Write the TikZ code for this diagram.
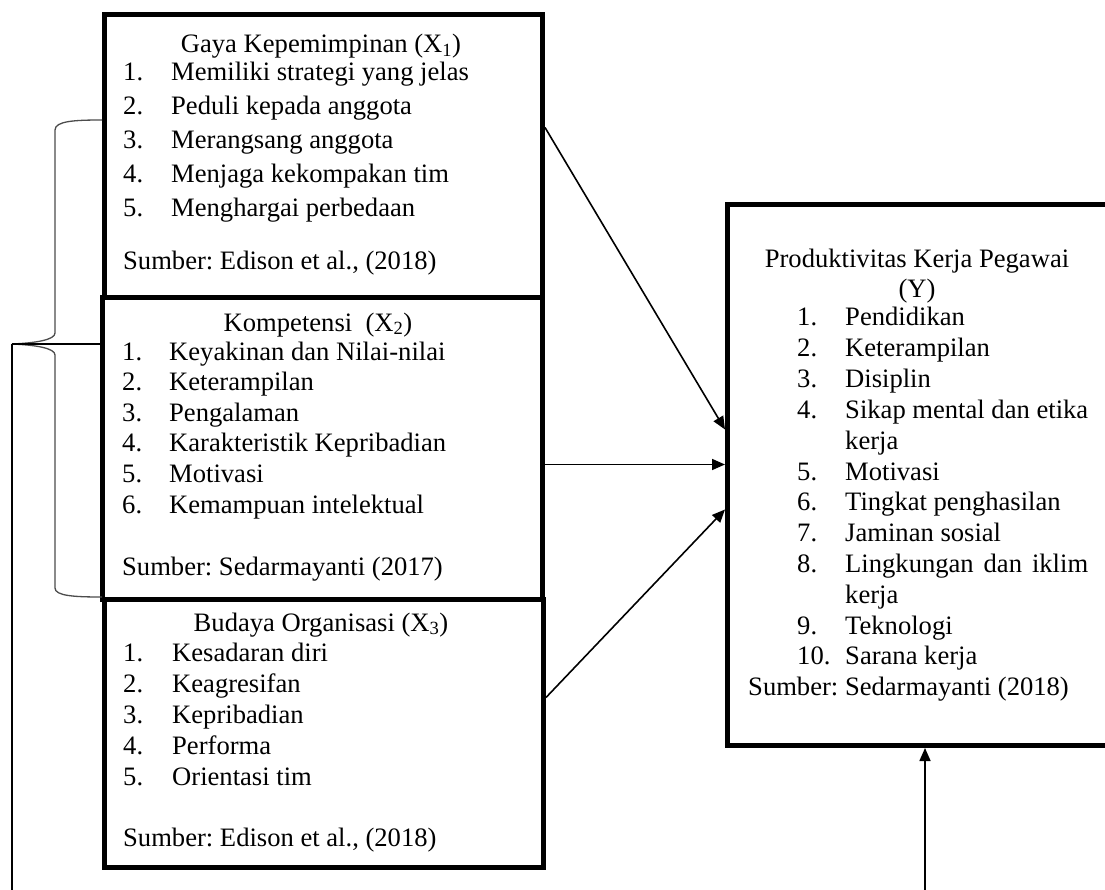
\documentclass[tikz,border=0pt]{standalone}
\usepackage{fontspec}
\setmainfont{Liberation Serif}
\frenchspacing
\usetikzlibrary{arrows.meta,calc}

\tikzset{
  varbox/.style={draw, line width=5pt, anchor=north west, inner sep=0pt},
  txt/.style={anchor=base west, inner sep=0pt, font=\fontsize{26.6}{32}\selectfont},
  ttl/.style={anchor=base, inner sep=0pt, font=\fontsize{26.6}{32}\selectfont},
  link/.style={line width=1.6pt, -{Triangle[length=13pt,width=11pt]}},
}

\begin{document}
\begin{tikzpicture}[x=1pt,y=1pt,yscale=-1]
    \useasboundingbox (0,0) rectangle (1105,890);
    \clip (0,0) rectangle (1105,890);

    %Shape: Rectangle [X1]
    \node [varbox, minimum width=438pt, minimum height=283pt] (x1) at (102,12) {};
    %Shape: Rectangle [X2]
    \node [varbox, minimum width=440pt, minimum height=302pt] (x2) at (100,295) {};
    %Shape: Rectangle [X3]
    \node [varbox, minimum width=439pt, minimum height=268pt] (x3) at (102,597) {};
    %Shape: Rectangle [Y]
    \node [varbox, minimum width=395pt, minimum height=541pt] (y) at (725,202) {};

    % Text Node [X1]
    \node [ttl] (x1t) at (321,53) {Gaya Kepemimpinan (X\textsubscript{1})};
    \foreach \item [count=\i] in {Memiliki strategi yang jelas, Peduli kepada anggota,
        Merangsang anggota, Menjaga kekompakan tim, Menghargai perbedaan} {
      \node [txt] (x1n\i) at (123,{81+33.8*(\i-1)}) {\i.};
      \node [txt] (x1i\i) at (171,{81+33.8*(\i-1)}) {\item};
    }
    \node [txt] (x1s) at (123,270) {Sumber: Edison et al., (2018)};

    % Text Node [X2]
    \node [ttl] (x2t) at (318,331) {Kompetensi\ \ (X\textsubscript{2})};
    \foreach \item [count=\i] in {Keyakinan dan Nilai-nilai, Keterampilan, Pengalaman,
        Karakteristik Kepribadian, Motivasi, Kemampuan intelektual} {
      \node [txt] (x2n\i) at (122,{360+30.6*(\i-1)}) {\i.};
      \node [txt] (x2i\i) at (169,{360+30.6*(\i-1)}) {\item};
    }
    \node [txt] (x2s) at (122,575) {Sumber: Sedarmayanti (2017)};

    % Text Node [X3]
    \node [ttl] (x3t) at (321,631) {Budaya Organisasi (X\textsubscript{3})};
    \foreach \item [count=\i] in {Kesadaran diri, Keagresifan, Kepribadian,
        Performa, Orientasi tim} {
      \node [txt] (x3n\i) at (123,{661+31.2*(\i-1)}) {\i.};
      \node [txt] (x3i\i) at (172,{661+31.2*(\i-1)}) {\item};
    }
    \node [txt] (x3s) at (123,846) {Sumber: Edison et al., (2018)};

    % Text Node [Y]
    \node [ttl] (yt) at (917,268) {Produktivitas Kerja Pegawai};
    \node [ttl] (yt2) at (917,298) {(Y)};
    \foreach \n/\item/\k in {1./Pendidikan/0, 2./Keterampilan/1, 3./Disiplin/2,
        4./\makebox[243pt][s]{Sikap mental dan etika}/3, /kerja/4, 5./Motivasi/5,
        6./Tingkat penghasilan/6, 7./Jaminan sosial/7,
        8./\makebox[243pt][s]{Lingkungan dan iklim}/8, /kerja/9,
        9./Teknologi/10, 10./Sarana kerja/11} {
      \node [txt] (yn\k) at (797,{326+30.8*\k}) {\n};
      \node [txt] (yi\k) at (845,{326+30.8*\k}) {\item};
    }
    \node [txt] (ys) at (748,695) {Sumber: Sedarmayanti (2018)};

    %Straight Lines [arrows to Y]
    \draw [link] ([yshift=-28.5pt]x1.east) -- ([yshift=-45.5pt]y.west);
    \draw [link] ([yshift=16pt]x2.east) -- ([yshift=-10.5pt]y.west);
    \draw [link] ([yshift=-36pt]x3.east) -- ([yshift=34.5pt]y.west);
    \coordinate (ybot) at (y.south |- 0,900);
    \draw [link] (ybot) -- (y.south);

    %Shape: Brace
    \coordinate (brtip) at (12,344);
    \draw [line width=1.3pt, black!70] (x1.west |- 0,120)
        .. controls (75,120) and (55,121) .. (55,130) -- (55,333)
        .. controls (55,340) and (35,343) .. (brtip)
        .. controls (35,345) and (55,348) .. (55,355) -- (55,588)
        .. controls (55,596) and (75,597) .. (x3.west |- 0,597);
    %Straight Lines [brace]
    \draw [line width=1.4pt] (brtip) -- (brtip -| x2.west);
    \coordinate (brbot) at (brtip |- 0,900);
    \draw [line width=1.4pt] (brtip) -- (brbot);

\end{tikzpicture}
\end{document}
